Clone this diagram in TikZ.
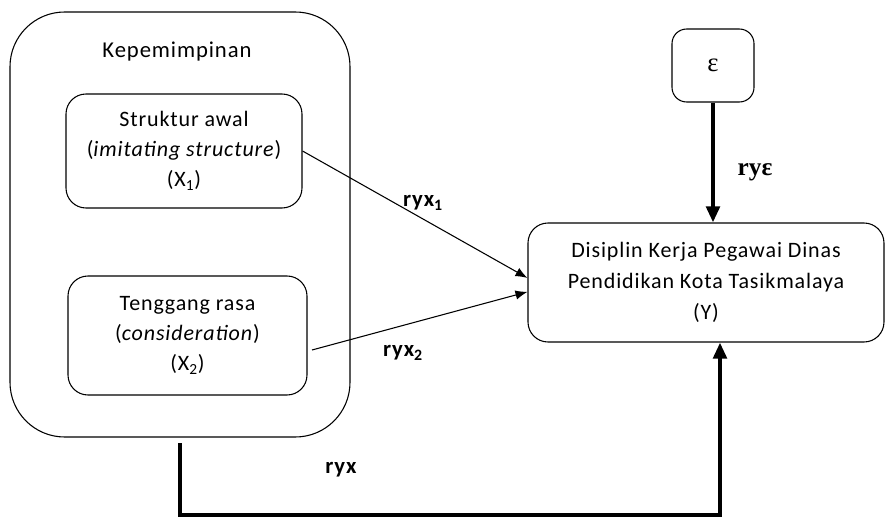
\documentclass[tikz,border=0pt]{standalone}
\usepackage{fontspec}
\setmainfont{Carlito}[LetterSpace=4]
\newfontfamily\serifgr{Liberation Serif}
\usetikzlibrary{arrows.meta}
\begin{document}
\begin{tikzpicture}[x=0.75pt,y=-0.75pt,
  rbox/.style={draw, line width=0.8pt, rounded corners=15pt, inner sep=0pt, align=center,
    font=\fontsize{16.5}{22.5}\selectfont},
  thinarr/.style={line width=0.8pt, -{Latex[length=9pt,width=7pt]}},
  thickarr/.style={line width=3pt, line join=miter, -{Triangle[length=12pt,width=10pt]}},
  lbl/.style={font=\fontsize{17}{18}\selectfont\bfseries, inner sep=0pt}]
\useasboundingbox (0,0) rectangle (886,517);
\node[rbox, rounded corners=41pt, minimum width=255pt, minimum height=318.75pt] (outer) at (180,224.5) {};
\node[font=\fontsize{17}{18}\selectfont, inner sep=0pt] (kep) at (177,52) {Kepemimpinan};
\node[rbox, minimum width=177pt, minimum height=85.5pt] (x1) at (184,151)
  {Struktur awal\\(\textit{imitating structure})\\(X\textsubscript{1})};
\node[rbox, minimum width=179.25pt, minimum height=89.25pt] (x2) at (187.5,335.5)
  {Tenggang rasa\\(\textit{consideration})\\(X\textsubscript{2})};
\node[rbox, rounded corners=11pt, minimum width=61.5pt, minimum height=54.75pt,
  font=\fontsize{20}{24}\selectfont\serifgr] (eps) at (713,65.5) {ε};
\node[rbox, minimum width=267pt, minimum height=89.25pt, font=\fontsize{16.5}{23.5}\selectfont] (y) at (706,282.5)
  {Disiplin Kerja Pegawai Dinas\\Pendidikan Kota Tasikmalaya\\(Y)};
\coordinate (x2out) at (312,350);
\coordinate (ostart) at (180,443);
\coordinate (c1) at (180,515);
\coordinate (c2) at (720,515);
\draw[thinarr] (x1.east) -- ([yshift=3.4pt]y.west);
\draw[thinarr] (x2out) -- ([yshift=-7pt]y.west);
\draw[thickarr] (eps.south) -- (eps.south |- y.north);
\draw[thickarr] (ostart) -- (c1) -- (c2) -- (c2 |- y.south);
\node[lbl] (l1) at (423,203) {ryx\textsubscript{1}};
\node[lbl] (l2) at (403,353) {ryx\textsubscript{2}};
\node[lbl] (l3) at (341,470) {ryx};
\node[lbl, font=\fontsize{19}{20}\selectfont\bfseries\serifgr] (l4) at (755,172) {ryε};
\end{tikzpicture}
\end{document}
